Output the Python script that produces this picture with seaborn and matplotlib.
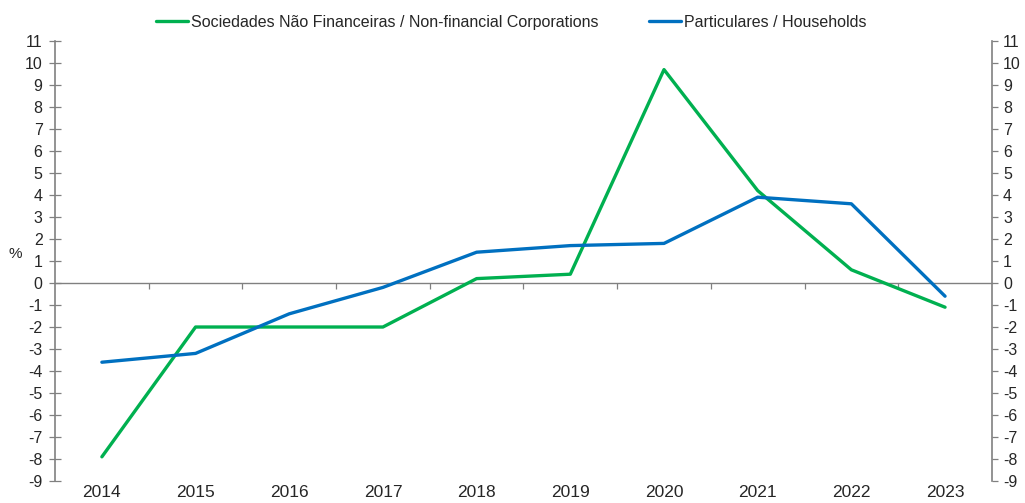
import pandas as pd
import numpy as np
import matplotlib
matplotlib.use('Agg')
import matplotlib.pyplot as plt
import seaborn as sns


years = [2014, 2015, 2016, 2017, 2018, 2019, 2020, 2021, 2022, 2023]
corporations = [-7.9, -2.0, -2.0, -2.0, 0.2, 0.4, 9.7, 4.2, 0.6, -1.1]
households = [-3.6, -3.2, -1.4, -0.2, 1.4, 1.7, 1.8, 3.9, 3.6, -0.6]

label_corp = 'Sociedades Não Financeiras / Non-financial Corporations'
label_hh = 'Particulares / Households'
y_ticks = list(range(-9, 12))

df = pd.DataFrame({
    'year': years * 2,
    'value': corporations + households,
    'series': [label_corp] * len(years) + [label_hh] * len(years),
})

sns.set_style('white')
plt.rcParams['font.family'] = ['Liberation Sans', 'DejaVu Sans']

fig = plt.figure(figsize=(10.25, 5.03), dpi=100)
ax = fig.add_axes([0.0537, 0.0437, 0.914, 0.8748])

sns.lineplot(data=df, x='year', y='value', hue='series',
             palette={label_corp: '#00B050', label_hh: '#0070C0'},
             linewidth=2.4, ax=ax)

ax.set_xlim(years[0] - 0.5, years[-1] + 0.5)
ax.set_ylim(-9, 11)
ax.set_yticks(y_ticks)
ax.set_yticklabels([str(t) for t in y_ticks], fontsize=11.5)
ax.set_xticks(years)
ax.set_xticklabels([str(y) for y in years], fontsize=12.5)
ax.tick_params(axis='x', length=0, pad=3)
ax.tick_params(axis='y', direction='inout', length=8, width=0.9,
               color='#808080', left=True, pad=5)
ax.set_xlabel('')
ax.set_ylabel('%', rotation=0, fontsize=11)
ax.yaxis.set_label_coords(-0.042, 0.5)

for side in ['top', 'bottom', 'right']:
    ax.spines[side].set_visible(False)
ax.spines['left'].set_color('#808080')
ax.spines['left'].set_linewidth(1.2)

# right axis
right = ax.secondary_yaxis('right')
right.set_yticks(y_ticks)
right.set_yticklabels([str(t) for t in y_ticks], fontsize=11.5)
right.tick_params(direction='out', length=4, width=0.9, color='#808080', pad=4)
right.spines['right'].set_color('#808080')
right.spines['right'].set_linewidth(1.2)

# zero line with category boundary ticks
zero = ax.secondary_xaxis(0, transform=ax.transData)
zero.set_xticks(np.arange(years[0] + 0.5, years[-1], 1.0))
zero.set_xticklabels([])
zero.tick_params(direction='out', length=4, width=0.9, color='#808080')
zero.spines['bottom'].set_color('#808080')
zero.spines['bottom'].set_linewidth(1.0)

handles, labels = ax.get_legend_handles_labels()
ax.legend(handles, labels, loc='center', bbox_to_anchor=(0.487, 1.043),
          ncol=2, frameon=False, fontsize=11.5, handlelength=2.0,
          handletextpad=0.2, columnspacing=3.2)

fig.savefig('out.png', dpi=100)
